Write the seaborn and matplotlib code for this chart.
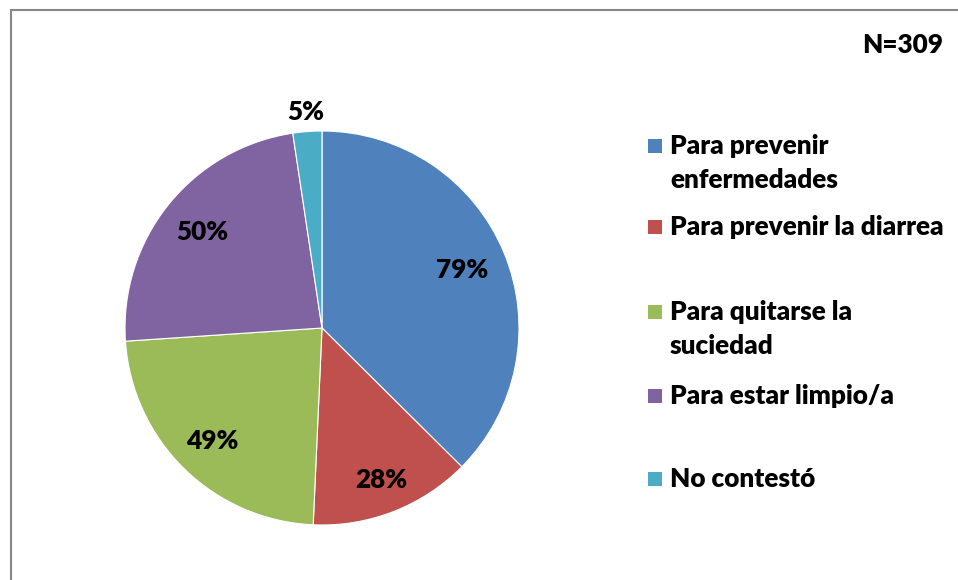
import matplotlib.pyplot as plt
import seaborn as sns
from matplotlib.lines import Line2D
from matplotlib.patches import Rectangle
import numpy as np

categories = ['Para prevenir\nenfermedades', 'Para prevenir la diarrea',
              'Para quitarse la\nsuciedad', 'Para estar limpio/a', 'No contestó']
values = [79, 28, 49, 50, 5]
colors = ['#4F81BD', '#C0504D', '#9BBB59', '#8064A2', '#4BACC6']
label_dist = [0.77, 0.83, 0.80, 0.78, 1.10]
n_text = 'N=309'

sns.set_theme(style="white")
plt.rcParams['font.family'] = ['Lato', 'DejaVu Sans']
fs = 18.8
fw = 'heavy'

W, H = 958, 580
fig = plt.figure(figsize=(W / 100, H / 100), dpi=100)
ax = fig.add_axes([125 / W, 1 - 525 / H, 394 / W, 394 / H])

wedges, _ = ax.pie(values, colors=colors, startangle=90, counterclock=False,
                   wedgeprops=dict(edgecolor='white', linewidth=0.8))
ax.set_xlim(-1, 1)
ax.set_ylim(-1, 1)
ax.axis('off')

for w, v, d in zip(wedges, values, label_dist):
    ang = np.deg2rad((w.theta1 + w.theta2) / 2)
    ax.text(d * np.cos(ang), d * np.sin(ang), f'{v}%', ha='center', va='center',
            fontsize=fs, fontweight=fw, color='black')

# leyenda manual
legend_y = [146, 227, 312, 396, 479]
for lab, c, y in zip(categories, colors, legend_y):
    fig.patches.append(Rectangle((648 / W, 1 - (y + 7) / H), 14 / W, 14 / H,
                                 transform=fig.transFigure, facecolor=c, edgecolor='none'))
    for k, line in enumerate(lab.split('\n')):
        fig.text(670 / W, 1 - (y + 34 * k) / H, line, ha='left', va='center',
                 fontsize=fs, fontweight=fw, color='black')

fig.text(943 / W, 1 - 45 / H, n_text, ha='right', va='center',
         fontsize=fs, fontweight=fw, color='black')

# marco del gráfico
fig.lines.append(Line2D([11 / W, 1], [1 - 10 / H, 1 - 10 / H], transform=fig.transFigure,
                        color='#868686', linewidth=1.5))
fig.lines.append(Line2D([11 / W, 11 / W], [1 - 10 / H, 0], transform=fig.transFigure,
                        color='#868686', linewidth=1.5))

fig.savefig('out.png', dpi=100)
